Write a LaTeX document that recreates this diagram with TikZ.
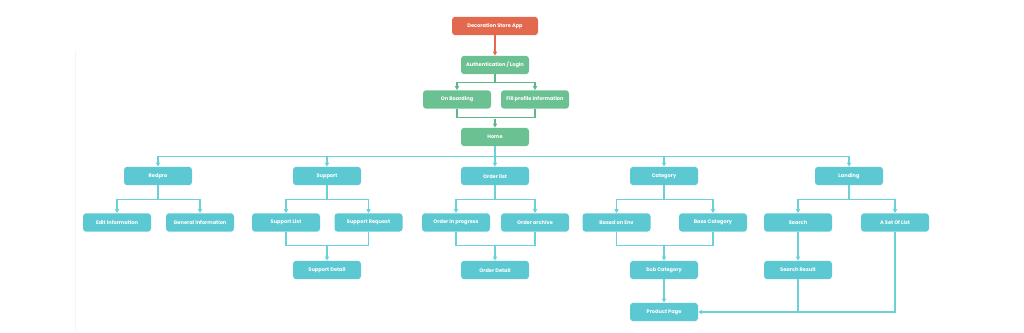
\documentclass[tikz,border=0pt]{standalone}
\usepackage{fontspec}
\setmainfont{Poppins}
\usetikzlibrary{arrows.meta}
\definecolor{teal}{HTML}{5CC9D2}
\definecolor{tealline}{HTML}{6AD1DB}
\definecolor{mint}{HTML}{6CC193}
\definecolor{mintline}{HTML}{5DB888}
\definecolor{coral}{HTML}{E3694E}
\tikzset{
  box/.style={rounded corners=1.6mm, minimum width=3.4cm, minimum height=0.92cm, inner sep=0pt,
    text=white, font=\bfseries\fontsize{7.2}{8}\selectfont},
  tealbox/.style={box, fill=teal},
  mintbox/.style={box, fill=mint},
  coralbox/.style={box, fill=coral, minimum width=4.3cm},
  link/.style={line width=1.5pt, draw=tealline, line join=miter},
  arr/.style={link, -{Triangle[length=2mm, width=2mm]}},
  mintarr/.style={arr, draw=mintline},
  mintlink/.style={link, draw=mintline},
  coralarr/.style={arr, draw=coral},
}
\begin{document}
\begin{tikzpicture}[x=0.5mm, y=-0.5mm]
\useasboundingbox (0,0) rectangle (1024,332);
\draw[black!4, line width=0.8pt] (75,50) -- (75,332);
\node[coralbox] (app) at (495,26) {Decoration Store App};
\node[mintbox] (auth) at (495,65) {Authentication / Login};
\node[mintbox] (onboard) at (457,99.5) {On Boarding};
\node[mintbox] (fillinfo) at (535,99.5) {Fill profile information};
\node[mintbox] (home) at (495,137) {Home};
\node[tealbox] (redpro) at (158,176) {Redpro};
\node[tealbox] (support) at (327,176) {Support};
\node[tealbox] (orderlist) at (495,176) {Order list};
\node[tealbox] (category) at (664,176) {Category};
\node[tealbox] (landing) at (849,176) {Landing};
\node[tealbox] (editinfo) at (117,222.5) {Edit information};
\node[tealbox] (geninfo) at (200,222.5) {General information};
\node[tealbox] (suplist) at (286,222.5) {Support List};
\node[tealbox] (supreq) at (368.5,222.5) {Support Request};
\node[tealbox] (ordprog) at (456,222.5) {Order in progress};
\node[tealbox] (ordarch) at (535,222.5) {Order archive};
\node[tealbox] (basedenv) at (616.5,222.5) {Based on Env};
\node[tealbox] (basecat) at (713,222.5) {Base Category};
\node[tealbox] (search) at (798,222.5) {Search};
\node[tealbox] (asetlist) at (895,222.5) {A Set Of List};
\node[tealbox] (supdetail) at (327,270) {Support Detail};
\node[tealbox] (orddetail) at (495,270) {Order Detail};
\node[tealbox] (subcat) at (664,270) {Sub Category};
\node[tealbox] (searchres) at (798,270) {Search Result};
\node[tealbox] (prodpage) at (664,312) {Product Page};
\draw[coralarr] (app.south) -- (auth.north);
\draw[mintarr] (auth.south) -- ++(0,8) -| (onboard.north);
\draw[mintarr] (auth.south) -- ++(0,8) -| (fillinfo.north);
\draw[mintlink] (onboard.south) -- ++(0,9) -| (fillinfo.south);
\draw[mintarr] (home.north) ++(0,-9) -- (home.north);
\draw[link] (home.south) -- ++(0,10) coordinate (bus);
\foreach \n in {redpro,support,orderlist,category,landing}
  \draw[arr] (bus) -| (\n.north);
\foreach \p/\a/\b in {redpro/editinfo/geninfo,support/suplist/supreq,orderlist/ordprog/ordarch,category/basedenv/basecat,landing/search/asetlist}{
  \draw[arr] (\p.south) -- ++(0,14) -| (\a.north);
  \draw[arr] (\p.south) -- ++(0,14) -| (\b.north);
}
\foreach \a/\b/\c in {suplist/supreq/supdetail,ordprog/ordarch/orddetail,basedenv/basecat/subcat}{
  \draw[link] (\a.south) -- ++(0,14) -| (\b.south);
  \draw[arr] (\c.north) ++(0,-15) -- (\c.north);
}
\draw[arr] (subcat.south) -- (prodpage.north);
\draw[arr] (search.south) -- (searchres.north);
\draw[link] (searchres.south) -- (searchres.south |- prodpage.east);
\draw[arr] (asetlist.south) |- (prodpage.east);
\end{tikzpicture}
\end{document}
